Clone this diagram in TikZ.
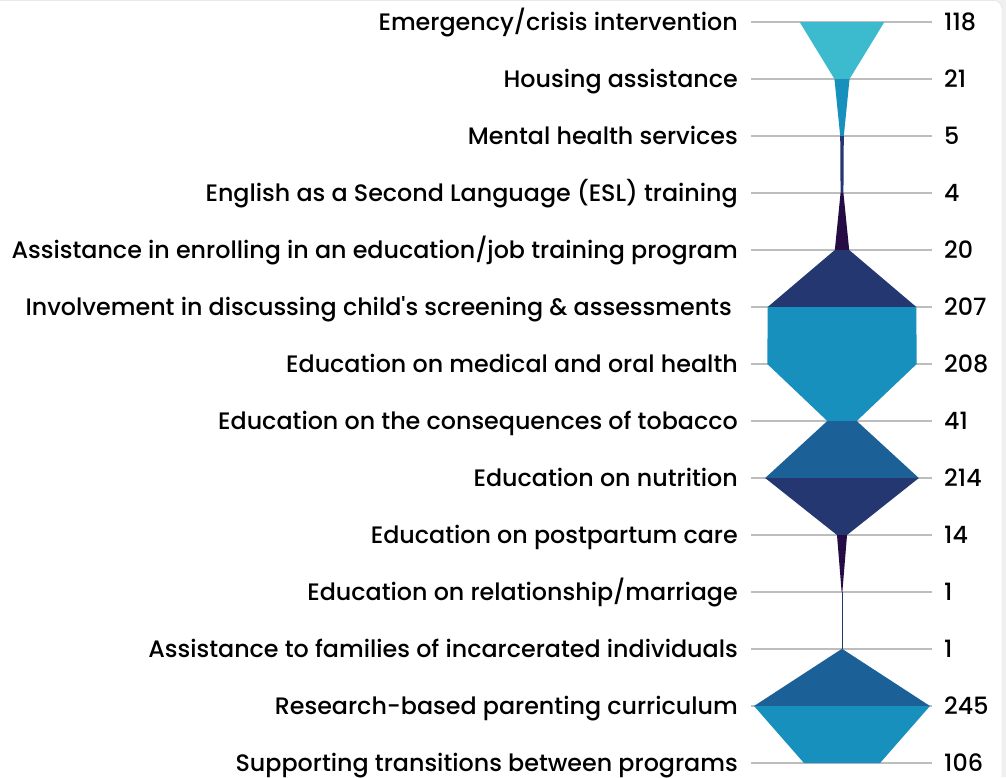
\documentclass[tikz,border=0pt]{standalone}
\usepackage{fontspec}
\setmainfont{Poppins}
\newfontfamily\lblfont{Poppins Medium}
\definecolor{cA}{HTML}{3CBBCF}
\definecolor{cB}{HTML}{1890BE}
\definecolor{cC}{HTML}{1B6198}
\definecolor{cD}{HTML}{253770}
\definecolor{cE}{HTML}{250C45}
\definecolor{gridc}{HTML}{BDBDBD}
\tikzset{
  lbl/.style={anchor=base east, inner sep=0pt, font=\lblfont\fontsize{23.8}{28}\selectfont, text=black},
  num/.style={anchor=base west, inner sep=0pt, font=\lblfont\fontsize{23.8}{28}\selectfont, text=black},
  gridline/.style={draw=gridc, line width=1.2pt},
}
\begin{document}
\begin{tikzpicture}[x=1pt,y=-1pt]
\useasboundingbox (0,0) rectangle (1006,777);
\fill[black!6] (0,0) rectangle (1006,777);
\filldraw[fill=white, draw=black!12, rounded corners=9pt] (-20,0.3) rectangle (1002,800);
% grid lines
\foreach \i in {0,...,13} {
  \draw[gridline] (751,22+57*\i) -- (932,22+57*\i);
}
% segments: index/top value/bottom value/colour
\foreach \i/\a/\b/\c in {0/118/21/cA,1/21/5/cB,2/5/4/cD,3/4/20/cE,4/20/207/cD,5/207/208/cB,6/208/41/cB,7/41/214/cC,8/214/14/cD,9/14/1/cE,10/1/1/cD,11/1/245/cC,12/245/106/cB} {
  \fill[\c] (842-0.359*\a,22+57*\i) -- (842+0.359*\a,22+57*\i) -- (842+0.359*\b,79+57*\i) -- (842-0.359*\b,79+57*\i) -- cycle;
}
% labels
\node[lbl] (l0) at (738,30.5) {Emergency/crisis intervention};
\node[lbl] (l1) at (738,87.5) {Housing assistance};
\node[lbl] (l2) at (738,144.5) {Mental health services};
\node[lbl] (l3) at (738,201.5) {English as a Second Language (ESL) training};
\node[lbl] (l4) at (738,258.5) {Assistance in enrolling in an education/job training program};
\node[lbl] (l5) at (732,315.5) {Involvement in discussing child's screening \& assessments};
\node[lbl] (l6) at (738,372.5) {Education on medical and oral health};
\node[lbl] (l7) at (738,429.5) {Education on the consequences of tobacco};
\node[lbl] (l8) at (738,486.5) {Education on nutrition};
\node[lbl] (l9) at (738,543.5) {Education on postpartum care};
\node[lbl] (l10) at (738,600.5) {Education on relationship/marriage};
\node[lbl] (l11) at (738,657.5) {Assistance to families of incarcerated individuals};
\node[lbl] (l12) at (738,714.5) {Research-based parenting curriculum};
\node[lbl] (l13) at (738,771.5) {Supporting transitions between programs};
% numbers
\foreach \i/\v in {0/118,1/21,2/5,3/4,4/20,5/207,6/208,7/41,8/214,9/14,10/1,11/1,12/245,13/106} {
  \node[num] (n\i) at (944,30.5+57*\i) {\v};
}
\end{tikzpicture}
\end{document}
